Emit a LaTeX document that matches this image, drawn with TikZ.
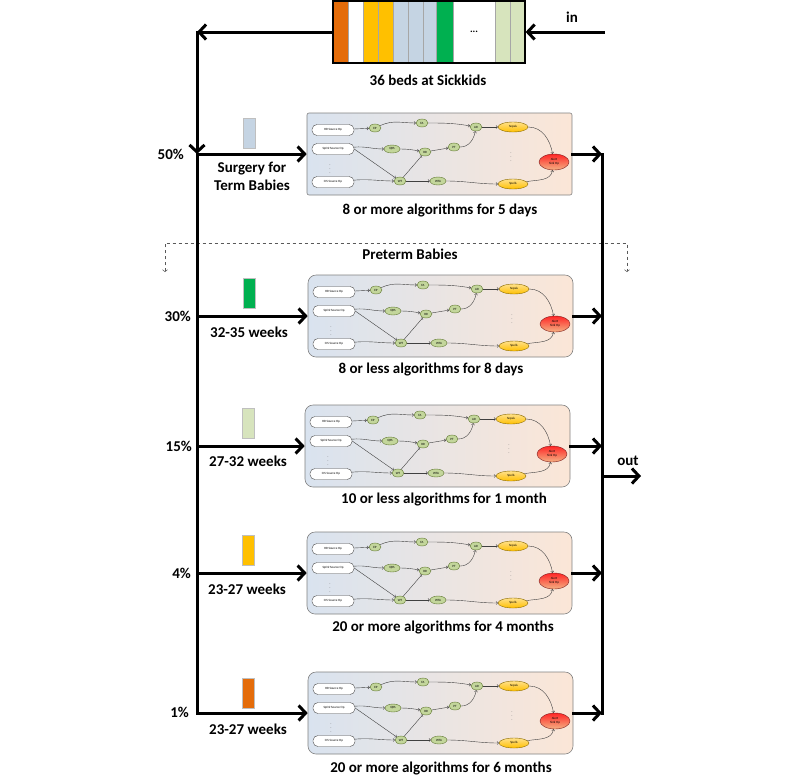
\documentclass[tikz,border=0pt]{standalone}
\usepackage{fontspec}
\setmainfont{Carlito}
\usetikzlibrary{arrows.meta,shapes.geometric,positioning}

\definecolor{bedorange}{HTML}{E46C0A}
\definecolor{bedyellow}{HTML}{FFC000}
\definecolor{bedblue}{HTML}{C5D4E3}
\definecolor{bedgreen}{HTML}{00B050}
\definecolor{bedlight}{HTML}{D7E4BD}
\definecolor{opgreen}{HTML}{C3D69B}
\definecolor{opgreenline}{HTML}{5F7530}
\definecolor{detlight}{HTML}{FFE08A}
\definecolor{detline}{HTML}{8A6A00}
\definecolor{alertline}{HTML}{7F1F1F}
\definecolor{alertlight}{HTML}{F4B183}
\definecolor{boxblue}{HTML}{D9E3EF}
\definecolor{boxpeach}{HTML}{FBE6D7}

\tikzset{
  flow/.style={line width=3pt, line cap=rect},
  flowarrow/.style={flow, -{Straight Barb[length=7pt,width=15pt]}},
  preterm/.style={black!65, line width=0.5pt, dashed, {Straight Barb[length=2pt,width=5pt]}-{Straight Barb[length=2pt,width=5pt]}},
  lbl/.style={font=\bfseries\fontsize{15}{18}\selectfont, inner sep=0},
  swatch/.style={draw=black!25, line width=0.3pt, minimum width=12, minimum height=30, inner sep=0},
  algobox/.style={draw=black!50, line width=0.6pt, left color=boxblue, right color=boxpeach, minimum width=265, minimum height=82, inner sep=0},
  tinytext/.style={font=\fontsize{3.2}{3.8}\selectfont},
  srcop/.style={tinytext, rectangle, rounded corners=5pt, draw=black!70, line width=0.4pt, fill=white, minimum width=42, minimum height=11, inner sep=0},
  algop/.style={tinytext, ellipse, draw=opgreenline, line width=0.4pt, fill=opgreen, minimum width=12, minimum height=8, inner sep=0},
  detop/.style={tinytext, ellipse, draw=detline, line width=0.4pt, top color=detlight, bottom color=bedyellow, minimum width=30, minimum height=10, inner sep=0},
  alertop/.style={tinytext, align=center, ellipse, draw=alertline, line width=0.4pt, top color=red!85, bottom color=alertlight, minimum width=30, minimum height=16, inner sep=0},
  vdot/.style={font=\fontsize{5}{5}\selectfont, text=black!60, inner sep=0},
  algoedge/.style={black!75, line width=0.4pt, -{Straight Barb[length=1.5pt,width=3pt]}},
}

% one copy of the algorithm graph: #1 name, (#2,#3) top left corner, #4 corner radius
\newcommand{\algoblock}[4]{%
  \node (#1) [algobox, rounded corners=#4] at (#2+132.5,#3-41) {};
  \begin{scope}[shift={(#2,#3)}]
    \node (#1hr) [srcop] at (26,-17) {HR Source Op};
    \node (#1spo) [srcop] at (26,-36) {SpO2 Source Op};
    \node (#1cis) [srcop] at (26,-69) {CIS Source Op};
    \node (#1dotsa) [vdot] at (23,-53) {$\vdots$};
    \node (#1ep) [algop] at (68,-15) {EP};
    \node (#1fa) [algop] at (115,-10) {FA};
    \node (#1ar) [algop] at (169,-14) {AR};
    \node (#1qrs) [algop, minimum width=16] at (85,-36) {QRS};
    \node (#1rr) [algop] at (118,-39) {RR};
    \node (#1pt) [algop] at (147,-34) {PT};
    \node (#1wt) [algop] at (93,-68) {WT};
    \node (#1wta) [algop, minimum width=16] at (131,-68) {WTA};
    \node (#1sepsis) [detop] at (206,-14) {Sepsis};
    \node (#1spells) [detop] at (206,-71) {Spells};
    \node (#1dotsb) [vdot] at (204,-41) {$\vdots$};
    \node (#1alert) [alertop] at (247,-49) {Alert\\Sink Op};
  \end{scope}
  \draw[algoedge] (#1hr) -- (#1ep);
  \draw[algoedge] (#1ep) to[out=25,in=180] (#1fa);
  \draw[algoedge] (#1fa) to[out=0,in=170] (#1ar);
  \draw[algoedge] (#1ar) -- (#1sepsis);
  \draw[algoedge] (#1sepsis) to[out=0,in=100] (#1alert);
  \draw[algoedge] (#1spo) to[out=5,in=180] (#1qrs);
  \draw[algoedge] (#1qrs) to[out=0,in=170] (#1rr);
  \draw[algoedge] (#1rr) to[out=10,in=190] (#1pt);
  \draw[algoedge] (#1pt) to[out=0,in=-100] (#1ar);
  \draw[algoedge] (#1spo.east) -- (#1wt);
  \draw[algoedge] (#1wt) -- (#1rr);
  \draw[algoedge] (#1cis) to[out=5,in=180] (#1wt);
  \draw[algoedge] (#1wt) -- (#1wta);
  \draw[algoedge] (#1wta) to[out=0,in=180] (#1spells);
  \draw[algoedge] (#1spells) to[out=10,in=-100] (#1alert);
}

\begin{document}
\begin{tikzpicture}[x=1pt, y=1pt]
    \useasboundingbox (0,0) rectangle (800,-780);

    % the beds
    \foreach \xa/\xb/\col in {333/348/bedorange, 348/363/white, 363/378/bedyellow, 378/393/bedyellow, 393/408/bedblue, 408/423/bedblue, 423/436/bedblue, 436/453/bedgreen, 453/495/white, 495/510/bedlight, 510/525/bedlight}
      \fill[\col] (\xa,-1) rectangle (\xb,-63);
    \foreach \xb in {348, 363, 378, 393, 408, 423, 436, 453, 495, 510}
      \draw[black!35, line width=0.8pt] (\xb,-1) -- (\xb,-63);
    \node (beds) [draw, line width=1.2pt, minimum width=192, minimum height=62, inner sep=0] at (429,-32) {};
    \node (bedsdots) [font=\bfseries\fontsize{10}{10}\selectfont] at (474,-32) {...};
    \node (bedsnote) [lbl] at (428,-80) {36 beds at Sickkids};
    \node (inlabel) [lbl] at (572,-17) {in};

    % algorithm blocks
    \algoblock{surgery}{307}{-113}{2pt}
    \algoblock{preterma}{308}{-275}{8pt}
    \algoblock{pretermb}{305}{-405}{8pt}
    \algoblock{pretermc}{307}{-532}{8pt}
    \algoblock{pretermd}{308}{-672}{8pt}

    \node (surgerynote) [lbl] at (440,-211) {8 or more algorithms for 5 days};
    \node (pretermanote) [lbl] at (431,-369) {8 or less algorithms for 8 days};
    \node (pretermbnote) [lbl] at (444,-499) {10 or less algorithms for 1 month};
    \node (pretermcnote) [lbl] at (443,-627) {20 or more algorithms for 4 months};
    \node (pretermdnote) [lbl] at (441,-768) {20 or more algorithms for 6 months};

    % groups of babies
    \node (pctsurgery) [lbl, anchor=east] at (184,-154) {50\%};
    \node (pctpreterma) [lbl, anchor=east] at (191,-316) {30\%};
    \node (pctpretermb) [lbl, anchor=east] at (192,-446) {15\%};
    \node (pctpretermc) [lbl, anchor=east] at (191,-573) {4\%};
    \node (pctpretermd) [lbl, anchor=east] at (189,-712) {1\%};

    \node (swsurgery) [swatch, fill=bedblue] at (249,-133) {};
    \node (swpreterma) [swatch, fill=bedgreen] at (249,-293) {};
    \node (swpretermb) [swatch, fill=bedlight] at (248,-423) {};
    \node (swpretermc) [swatch, fill=bedyellow] at (248,-550) {};
    \node (swpretermd) [swatch, fill=bedorange] at (248,-693) {};

    \node (grpsurgery) [lbl, align=center] at (252,-176) {Surgery for\\Term Babies};
    \node (grppreterma) [lbl] at (249,-332) {32-35 weeks};
    \node (grppretermb) [lbl] at (248,-461) {27-32 weeks};
    \node (grppretermc) [lbl] at (247,-589) {23-27 weeks};
    \node (grppretermd) [lbl] at (248,-729) {23-27 weeks};

    % preterm split
    \coordinate (pretermleft) at (165,-243);
    \coordinate (pretermright) at (627,-243);
    \coordinate (pretermleftend) at (165,-272);
    \coordinate (pretermrightend) at (627,-272);
    \draw[preterm] (pretermleftend) -- (pretermleft) -- (pretermright) -- (pretermrightend);
    \node (pretermnote) [lbl] at (410,-254) {Preterm Babies};

    % flow of patients
    \coordinate (instart) at (603,-32);
    \coordinate (topleft) at (197,-32);
    \coordinate (splitsurgery) at (197,-154);
    \coordinate (splitpreterma) at (197,-316);
    \coordinate (splitpretermb) at (197,-446);
    \coordinate (splitpretermc) at (197,-573);
    \coordinate (splitpretermd) at (197,-713);
    \coordinate (mergesurgery) at (602,-154);
    \coordinate (mergepreterma) at (602,-316);
    \coordinate (mergepretermb) at (602,-446);
    \coordinate (mergepretermc) at (602,-573);
    \coordinate (mergepretermd) at (602,-713);
    \coordinate (outstart) at (602,-476);
    \coordinate (outend) at (641,-476);

    \draw[flowarrow] (instart) -- (beds);
    \draw[flowarrow] (beds) -- (topleft);
    \draw[flowarrow] (topleft) -- (splitsurgery);
    \draw[flow] (splitsurgery) -- (splitpretermd);
    \draw[flow] (mergesurgery) -- (mergepretermd);
    \foreach \grp in {surgery, preterma, pretermb, pretermc, pretermd} {
      \draw[flowarrow] (split\grp) -- (\grp);
      \draw[flowarrow] (\grp) -- (merge\grp);
    }
    \draw[flowarrow] (outstart) -- (outend);
    \node (outlabel) [lbl] at (628,-461) {out};
\end{tikzpicture}
\end{document}
